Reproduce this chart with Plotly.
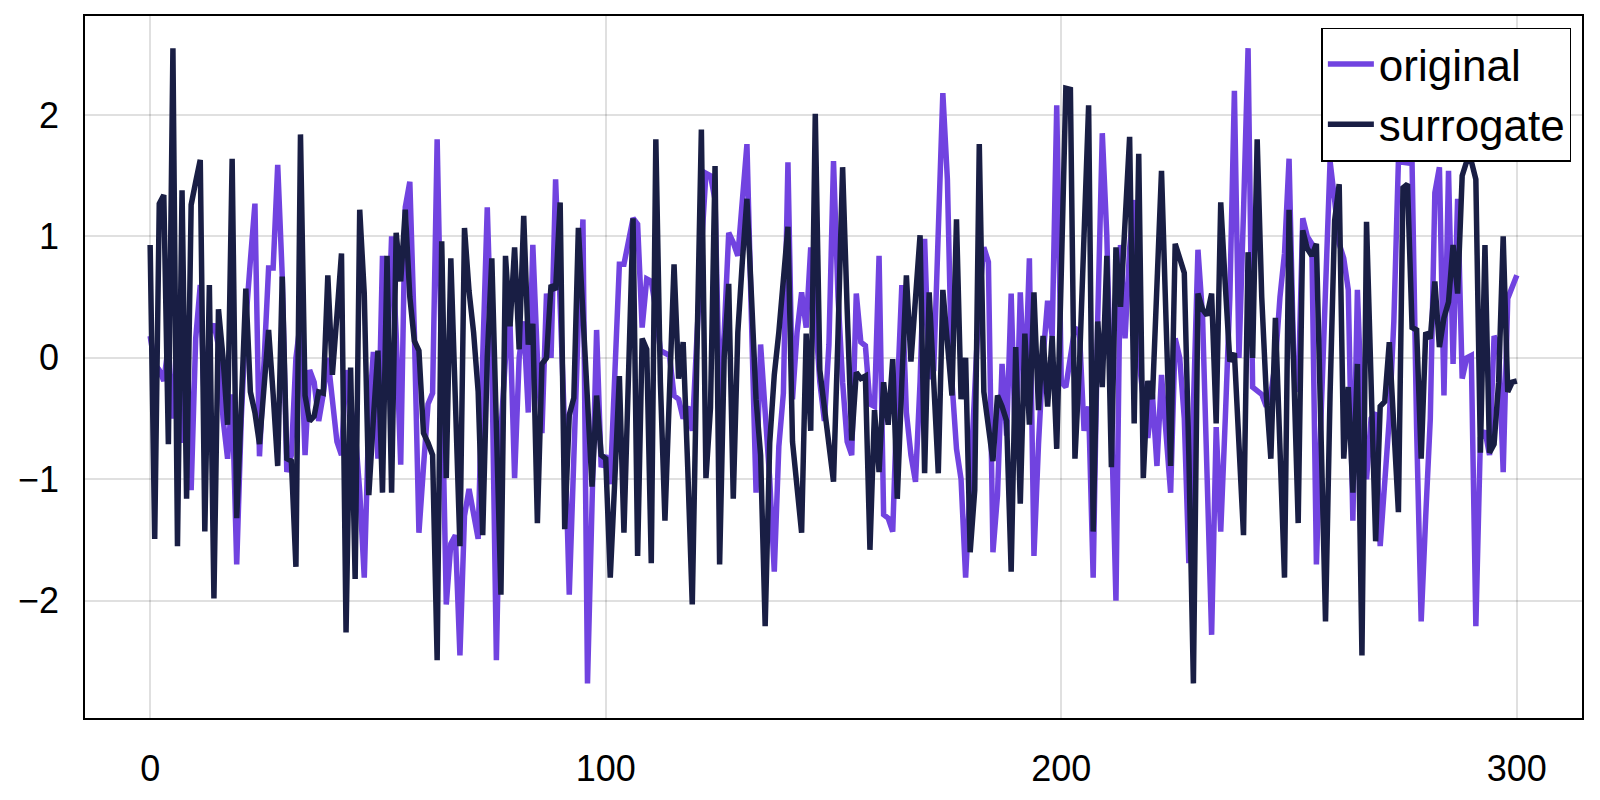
import plotly.graph_objects as go

# ---- data (index 0..300) ----
original = [
    0.18, -0.05, -0.1, -0.19, 0.1, -0.5, 0.1, -0.7, 0.35, -1.09,
    0.16, 0.6, -0.5, 0.2, 0.28, 0.1, -0.5, -0.83, -0.3, -1.70,
    -0.5, 0.3, 0.8, 1.27, -0.81, 0.0, 0.74, 0.74, 1.59, 0.67,
    -0.94, -0.8, 0.0, 0.3, -0.8, -0.1, -0.2, -0.52, -0.3, 0.0,
    -0.3, -0.69, -0.8, -0.1, -0.41, -0.6, -1.1, -1.81, -0.5, 0.05,
    -0.83, 0.84, -0.1, 1.0, 0.2, -0.88, 1.24, 1.45, 0.21, -1.44,
    -0.9, -0.38, -0.29, 1.80, -0.1, -2.03, -1.53, -1.46, -2.45, -1.3,
    -1.08, -1.3, -1.49, 0.0, 1.24, 0.0, -2.49, -0.6, 0.0, 0.28,
    -0.99, 0.0, 0.3, -0.45, 0.93, 0.0, -0.62, 0.53, 0.0, 1.47,
    0.5, -0.6, -1.95, -0.73, 0.3, 1.14, -2.68, -1.2, 0.23, -0.9,
    -0.8, -1.04, -0.2, 0.77, 0.77, 0.94, 1.15, 1.10, 0.25, 0.65,
    0.63, 0.4, 0.06, 0.04, 0.02, -0.31, -0.34, -0.5, -0.4, -0.6,
    0.2, 0.9, 1.52, 1.5, 1.3, -0.35, 0.2, 1.03, 0.95, 0.84,
    1.3, 1.76, 0.3, -1.11, 0.11, -0.4, -1.0, -1.76, -0.73, -0.29,
    1.61, -0.34, 0.21, 0.54, 0.25, 0.91, 0.3, -0.2, -0.52, 0.11,
    1.62, 0.5, -0.2, -0.69, -0.8, 0.53, 0.13, 0.1, -0.38, -0.4,
    0.84, -1.29, -1.32, -1.43, -0.3, 0.6, -0.45, -0.8, -1.02, -0.2,
    0.98, -0.17, -0.1, 1.0, 2.18, 1.47, -0.2, -0.75, -1.0, -1.81,
    -1.0, -0.3, 0.5, 0.91, 0.79, -1.6, -1.13, -0.05, -0.64, 0.53,
    -0.83, 0.54, -0.31, 0.82, -1.63, -0.71, 0.0, 0.47, 0.18, 2.08,
    -0.2, -0.24, 0.0, 0.25, 0.2, -0.6, -0.4, -1.81, 0.32, 1.85,
    1.0, -0.5, -2.0, 0.93, 0.16, 0.9, 1.3, 0.0, -0.3, -0.66,
    -0.3, -0.89, -0.14, -0.6, -1.11, 0.16, 0.0, -0.5, -1.69, -0.4,
    0.89, 0.35, -0.9, -2.28, -0.57, -1.43, -0.5, 0.5, 2.2, 0.0,
    1.2, 2.55, -0.24, -0.27, -0.3, -0.4, -0.3, -0.03, 0.5, 0.86,
    1.64, 0.0, -0.28, 1.15, 1.0, 0.94, -1.7, -0.5, 0.5, 1.62,
    1.3, 0.94, 0.82, 0.56, -1.34, 0.56, -0.5, -1.0, -0.5, -0.45,
    -1.55, -0.95, -0.5, 0.3, 1.62, 1.61, 1.6, 1.6, -0.59, -2.17,
    -1.3, -0.5, 1.36, 1.57, -0.31, 1.54, -0.05, 1.31, -0.17, 0.0,
    0.02, -2.21, -0.66, -0.6, -0.8, 0.18, 0.1, -0.94, 0.49, 0.6,
    0.68,
]

surrogate = [
    0.93, -1.49, 1.27, 1.34, -0.71, 2.55, -1.55, 1.38, -1.16, 1.26,
    1.45, 1.63, -1.43, 0.60, -1.98, 0.40, 0.0, -0.55, 1.64, -1.32,
    -0.4, 0.57, -0.28, -0.45, -0.71, -0.2, 0.23, -0.3, -0.89, 0.67,
    -0.83, -0.85, -1.72, 1.84, -0.31, -0.52, -0.48, -0.28, -0.29, 0.68,
    -0.14, 0.35, 0.86, -2.26, -0.08, -1.82, 1.22, 0.53, -1.13, -0.5,
    0.06, -1.11, 0.84, -1.11, 1.03, 0.63, 1.22, 0.5, 0.14, 0.06,
    -0.62, -0.7, -0.8, -2.49, 0.96, -0.99, 0.82, -0.35, -1.55, 1.07,
    0.55, 0.21, -0.28, -1.46, 0.0, 0.82, -0.5, -1.95, 0.84, 0.26,
    0.91, 0.07, 1.17, 0.11, 0.28, -1.36, -0.05, 0.0, 0.6, 0.56,
    1.28, -1.41, -0.47, -0.33, 1.07, 0.3, -0.4, -1.06, -0.31, -0.8,
    -0.83, -1.81, -1.0, -0.15, -1.44, 0.0, 1.15, -1.63, 0.16, 0.07,
    -1.69, 1.80, -0.2, -1.34, -0.3, 0.77, -0.17, 0.13, -0.9, -2.03,
    0.0, 1.88, -0.99, -0.41, 1.58, -1.7, 0.0, 0.61, -1.16, 0.21,
    0.8, 1.31, 0.5, -0.34, -0.8, -2.21, -0.7, -0.14, 0.21, 0.7,
    1.08, -0.69, -1.1, -1.44, 0.2, -0.6, 2.01, -0.1, -0.41, -0.7,
    -1.02, 0.2, 1.57, 0.4, -0.68, -0.12, -0.17, -0.15, -1.58, -0.43,
    -0.94, -0.2, -0.55, -0.01, -1.16, -0.2, 0.68, -0.03, 0.5, 1.01,
    -0.95, 0.54, -0.2, -0.95, 0.56, 0.09, -0.31, 1.14, -0.34, 0.0,
    -1.6, -1.09, 1.76, -0.28, -0.6, -0.85, -0.31, -0.4, -0.52, -1.76,
    0.09, -1.2, 0.2, -0.55, 0.54, -0.43, 0.18, -0.4, 0.18, -0.75,
    0.7, 2.22, 2.21, -0.83, -0.05, 1.0, 2.08, -1.43, 0.3, -0.24,
    0.84, -0.9, 0.91, 0.42, 1.1, 1.82, -0.54, 1.68, -0.99, -0.19,
    -0.34, 0.5, 1.54, 0.3, -0.89, 0.94, 0.8, 0.7, -0.8, -2.68,
    0.53, 0.4, 0.35, 0.53, -0.54, 1.28, 0.6, -0.03, 0.04, -0.7,
    -1.46, 0.87, 0.0, 1.80, 0.5, -0.3, -0.83, 0.33, -0.8, -1.81,
    1.22, -0.1, -1.36, 1.05, 0.9, 0.84, 0.94, -0.6, -2.17, -0.3,
    1.13, 1.43, -0.83, -0.24, -1.11, -0.05, -2.45, 1.12, -0.2, -1.51,
    -0.4, -0.36, 0.13, -0.55, -1.27, 1.4, 1.43, 0.25, 0.23, -0.83,
    0.21, 0.16, 0.63, 0.09, 0.33, 0.46, 0.93, 0.53, 1.5, 1.62,
    1.62, 1.47, -0.78, 0.93, -0.78, -0.71, -0.2, 1.0, -0.28, -0.2,
    -0.19,
]

time_index = list(range(len(original)))
x_ticks = [0, 100, 200, 300]
y_ticks = [-2, -1, 0, 1, 2]

PURPLE = "#7143E0"
NAVY = "#191E44"
FONT = "Liberation Sans, Arial, Helvetica, sans-serif"

fig = go.Figure()
fig.add_trace(go.Scatter(x=time_index, y=original, mode="lines", name="original",
                         line=dict(color=PURPLE, width=5.5)))
fig.add_trace(go.Scatter(x=time_index, y=surrogate, mode="lines", name="surrogate",
                         line=dict(color=NAVY, width=5.5)))

axis_common = dict(showgrid=True, gridcolor="rgba(0,0,0,0.12)", gridwidth=1.5,
                   zeroline=False, showline=True, linecolor="black", linewidth=1.5,
                   mirror=True, ticks="", automargin=False,
                   tickfont=dict(size=36, color="black", family=FONT))

fig.update_xaxes(range=[-14.3, 314.3], tickvals=x_ticks, ticklabelstandoff=18, **axis_common)
fig.update_yaxes(range=[-2.965, 2.815], tickvals=y_ticks, ticklabelstandoff=17, **axis_common)

# page body has an 8px default margin, so the figure is sized to fit inside the window
fig.update_layout(
    width=1592, height=792,
    margin=dict(l=77, r=18, t=8, b=82),
    paper_bgcolor="white", plot_bgcolor="white",
    font=dict(family=FONT, color="black"),
    legend=dict(x=0.9929, y=0.9836, xanchor="right", yanchor="top",
                bgcolor="white", bordercolor="black", borderwidth=1.5,
                itemwidth=46,
                font=dict(size=44, family=FONT, color="black")),
)

fig.write_html("out.html")
